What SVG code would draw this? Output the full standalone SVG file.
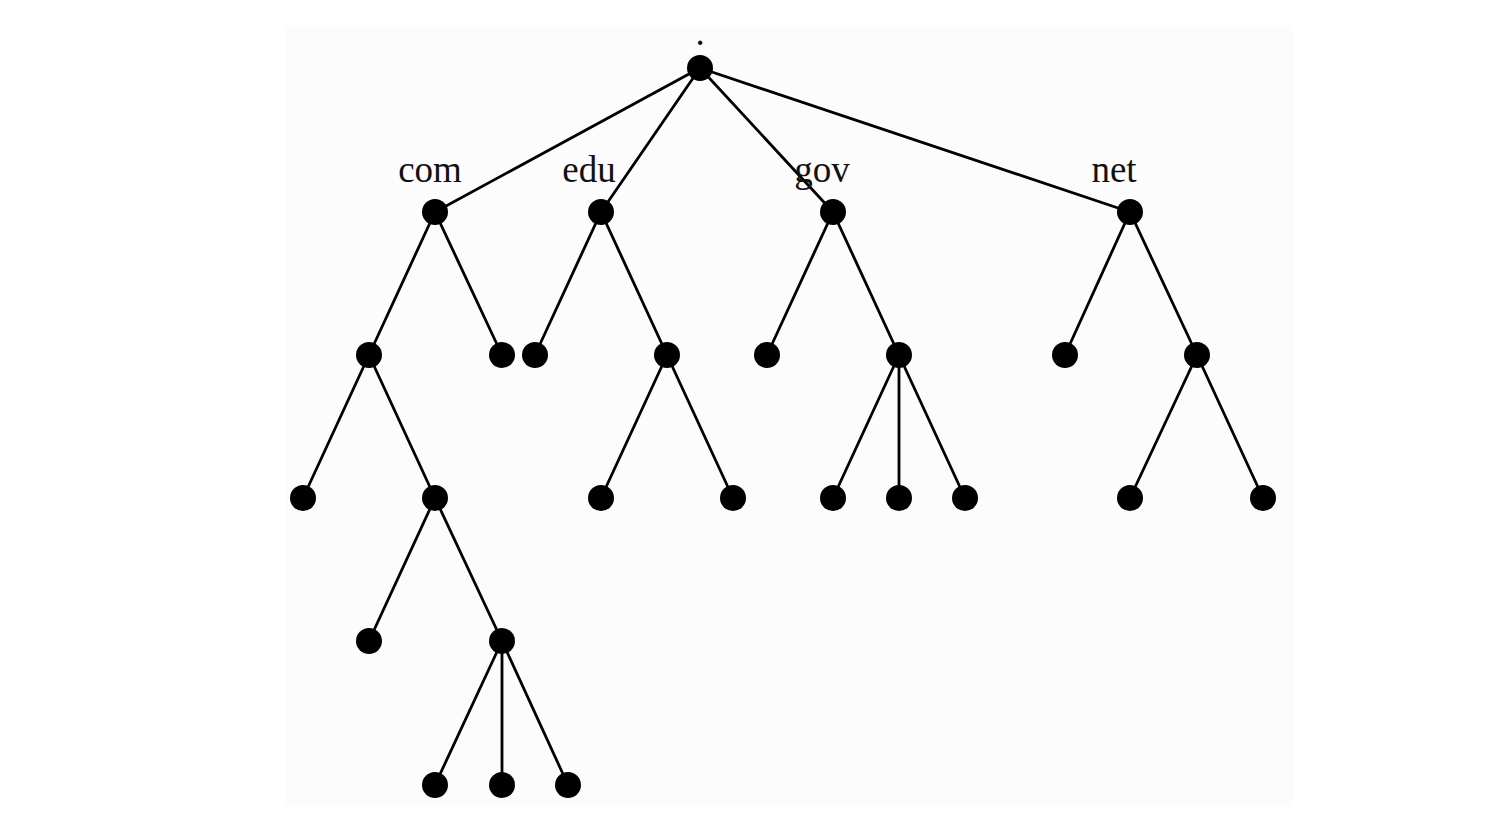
<svg xmlns="http://www.w3.org/2000/svg" width="1485" height="827" viewBox="0 0 1485 827">
<style>
.e{stroke:#000;stroke-width:2.8;fill:none}
.n{fill:#000}
.t{font-family:"Liberation Serif","Times New Roman",serif;font-size:37px;fill:#111;text-anchor:middle}
</style>
<rect x="0" y="0" width="1485" height="827" fill="#fff"/>
<rect x="286" y="26" width="1008" height="780" fill="#fcfcfc"/>
<g id="connectors">
<path class="e" d="M700,68L435,212M700,68L601,212M700,68L833,212M700,68L1130,212"/>
<path class="e" d="M435,212L369,355M435,212L502,355M601,212L535,355M601,212L667,355M833,212L767,355M833,212L899,355M1130,212L1065,355M1130,212L1197,355"/>
<path class="e" d="M369,355L303,498M369,355L435,498M667,355L601,498M667,355L733,498M899,355L833,498M899,355L899,498M899,355L965,498M1197,355L1130,498M1197,355L1263,498"/>
<path class="e" d="M435,498L369,641M435,498L502,641M502,641L435,785M502,641L502,785M502,641L568,785"/>
</g>
<g id="labels">
<text class="t" x="700" y="45">.</text>
<text class="t" x="430" y="182">com</text>
<text class="t" x="589" y="182">edu</text>
<text class="t" x="822" y="182">gov</text>
<text class="t" x="1114" y="182">net</text>
</g>
<g id="root"><circle class="n" cx="700" cy="68" r="13"/></g>
<g id="com"><circle class="n" cx="435" cy="212" r="13"/></g>
<g id="edu"><circle class="n" cx="601" cy="212" r="13"/></g>
<g id="gov"><circle class="n" cx="833" cy="212" r="13"/></g>
<g id="net"><circle class="n" cx="1130" cy="212" r="13"/></g>
<g id="n2a"><circle class="n" cx="369" cy="355" r="13"/></g>
<g id="n2b"><circle class="n" cx="502" cy="355" r="13"/></g>
<g id="n2c"><circle class="n" cx="535" cy="355" r="13"/></g>
<g id="n2d"><circle class="n" cx="667" cy="355" r="13"/></g>
<g id="n2e"><circle class="n" cx="767" cy="355" r="13"/></g>
<g id="n2f"><circle class="n" cx="899" cy="355" r="13"/></g>
<g id="n2g"><circle class="n" cx="1065" cy="355" r="13"/></g>
<g id="n2h"><circle class="n" cx="1197" cy="355" r="13"/></g>
<g id="n3a"><circle class="n" cx="303" cy="498" r="13"/></g>
<g id="n3b"><circle class="n" cx="435" cy="498" r="13"/></g>
<g id="n3c"><circle class="n" cx="601" cy="498" r="13"/></g>
<g id="n3d"><circle class="n" cx="733" cy="498" r="13"/></g>
<g id="n3e"><circle class="n" cx="833" cy="498" r="13"/></g>
<g id="n3f"><circle class="n" cx="899" cy="498" r="13"/></g>
<g id="n3g"><circle class="n" cx="965" cy="498" r="13"/></g>
<g id="n3h"><circle class="n" cx="1130" cy="498" r="13"/></g>
<g id="n3i"><circle class="n" cx="1263" cy="498" r="13"/></g>
<g id="n4a"><circle class="n" cx="369" cy="641" r="13"/></g>
<g id="n4b"><circle class="n" cx="502" cy="641" r="13"/></g>
<g id="n5a"><circle class="n" cx="435" cy="785" r="13"/></g>
<g id="n5b"><circle class="n" cx="502" cy="785" r="13"/></g>
<g id="n5c"><circle class="n" cx="568" cy="785" r="13"/></g>
</svg>
